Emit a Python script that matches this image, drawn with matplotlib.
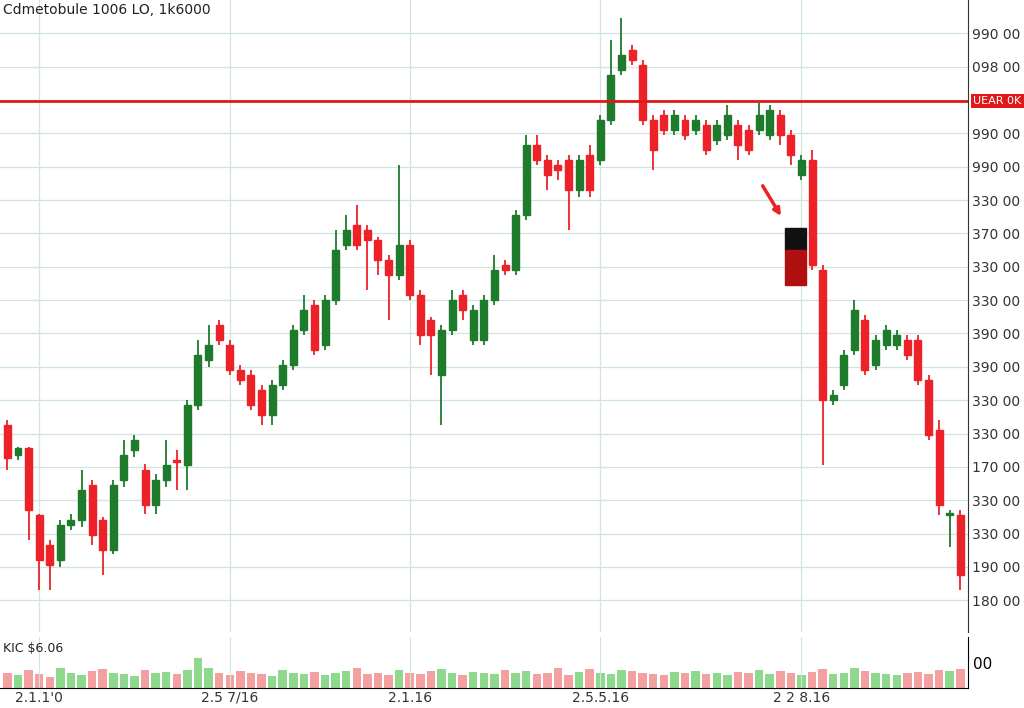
import matplotlib
matplotlib.use("Agg")
import matplotlib.pyplot as plt
from matplotlib.patches import Rectangle

opens = [872.5,863.5,865.6,845.5,836.5,832,842.5,844,854.5,844,835,856,865,859,848.5,856,862,860.5,878.5,892,902.5,896.5,889,887.5,883,875.5,884.5,890.5,901,908.5,896.5,910,926.5,932.5,931,928,922,917.5,926.5,911.5,904,887.5,901,911.5,898,898,910,920.5,919,935.5,956.5,952,950.5,952,943,953.5,952,964,979,985,980.5,964,965.5,961,964,961,962.5,958,959.5,962.5,961,961,959.5,965.5,959.5,947.5,952,919,880,884.5,895,904,890.5,896.5,896.5,898,898,886,871,845.5,845.5]
closes = [862.6,865.6,847,832,830.5,842.5,844,853,839.5,835,854.5,863.5,868,848.5,856,860.5,861.4,878.5,893.5,896.5,898,889,886,878.5,875.5,884.5,890.5,901,907,895,910,925,931,926.5,928,922,917.5,926.5,911.5,899.5,899.5,901,910,907,907,910,919,919,935.5,956.5,952,947.5,949,943,952,943,964,977.5,983.5,982,964,955,961,965.5,959.5,964,955,962.5,965.5,956.5,955,965.5,967,959.5,953.5,952,920.5,880,881.5,893.5,907,889,898,901,899.5,893.5,886,869.5,848.5,846,827.5]
highs = [874,866,866,846,838,844,846,859,856,845,856,868,869.5,861,858,868,865,880,898,902.5,904,898,890.5,889,884.5,886,892,902.5,911.5,910,911.5,931,935.5,938.5,932.5,929,923.5,950.5,928,913,905,902.5,913,913,908.5,911.5,923.5,922,937,959.5,959.5,953.5,952,953.5,953.5,956.5,965.5,988,994.6,986.5,982,965.5,967,967,965.5,965.5,964,964,968.5,964,962.5,969,968.5,967,961,953.5,955,920.5,883,895,910,905.5,899.5,902.5,901,899.5,899.5,887.5,874,847,847]
lows = [859,862,838,823,823,830,841,842,836.5,827.5,834,854,863,846,846,854,853,853,877,890,896.5,887.5,884.5,877,872.5,872.5,883,889,899.5,893.5,895,908.5,925,925,913,917.5,904,916,910,896.5,887.5,872.5,899.5,904,896.5,896.5,908.5,917.5,917.5,934,950.5,943,946,931,941,941,950.5,962.5,977.5,980.5,962.5,949,959.5,959.5,958,959.5,953.5,956.5,958,952,953.5,959.5,958,956.5,950.5,946,919,860.5,878.5,883,893.5,887.5,889,895,895,892,884.5,868,845.5,836,823]
volumes = [30,25,35,28,22,40,30,26,34,38,30,28,24,36,30,32,28,35,60,40,30,26,34,30,28,24,36,30,28,32,26,30,34,40,28,30,26,36,30,28,34,38,30,26,32,30,28,36,30,34,28,30,40,26,32,38,30,28,36,34,30,28,26,32,30,34,28,30,26,32,30,36,28,34,30,26,32,38,28,30,40,34,30,28,26,30,32,28,36,34,38]
resistance = 969.7
yticks = [990,980,970,960,950,940,930,920,910,900,890,880,870,860,850,840,830,820]
ytick_labels = ["990 00","098 00","","990 00","990 00","330 00","370 00","330 00","330 00","390 00","390 00","330 00","330 00","170 00","330 00","330 00","190 00","180 00"]
xtick_pos = [3, 21, 38, 56, 75]
xtick_labels = ["2.1.1'0", "2.5 7/16", "2.1.16", "2.5.5.16", "2 2 8.16"]

GREEN = "#1e7b2c"; RED = "#ec2228"
fig = plt.figure(figsize=(10.24, 7.08), dpi=100)
ax = fig.add_axes([0.0, 0.107, 0.945, 0.893])
vax = fig.add_axes([0.0, 0.028, 0.945, 0.072], sharex=ax)
n = len(opens)
for i in range(n):
    up = closes[i] >= opens[i]
    col = GREEN if up else RED
    ax.vlines(i, lows[i], highs[i], color=col, lw=1.3, zorder=2)
    lo = min(opens[i], closes[i]); hh = max(abs(closes[i]-opens[i]), 0.6)
    ax.add_patch(Rectangle((i-0.33, lo), 0.66, hh, color=col, zorder=3))
    vax.bar(i, volumes[i], width=0.8, color="#8fd98f" if up else "#f2a0a0")
ax.axhline(resistance, color="#e01818", lw=2, zorder=4)
ax.add_patch(Rectangle((73.4, 925), 2.0, 6.6, color="#111111", zorder=3))
ax.add_patch(Rectangle((73.4, 914.5), 2.0, 10.5, color="#b01010", zorder=3))
ax.annotate("", xy=(73.2, 934.5), xytext=(71.2, 945), arrowprops=dict(arrowstyle="-|>", color=RED, lw=2.5))
ax.set_xlim(-0.7, n - 0.3)
ax.set_ylim(810.4, 1000)
ax.yaxis.tick_right()
ax.set_yticks(yticks); ax.set_yticklabels(ytick_labels, fontsize=10, color="#333333")
ax.tick_params(axis="x", labelbottom=False, length=0)
ax.tick_params(axis="y", length=0, pad=3)
ax.grid(True, color="#cfe6dc", lw=0.9)
ax.set_xticks(xtick_pos)
for s in ["top", "left", "bottom"]:
    ax.spines[s].set_visible(False)
ax.spines["right"].set_color("#333333")
ax.text(0.003, 0.995, "Cdmetobule 1006 LO, 1k6000", transform=ax.transAxes, va="top", fontsize=10, color="#222222")
ax.text(1.006, resistance, "UEAR 0K", transform=ax.get_yaxis_transform(), va="center", fontsize=8,
        color="white", bbox=dict(facecolor="#e01818", edgecolor="none", pad=1.5))
vax.set_ylim(0, 100)
vax.yaxis.tick_right()
vax.set_yticks([50]); vax.set_yticklabels(["00"], fontsize=11)
vax.tick_params(axis="y", length=0)
vax.set_xticks(xtick_pos); vax.set_xticklabels(xtick_labels, fontsize=10, color="#333333")
vax.tick_params(axis="x", length=0, pad=2)
vax.grid(True, axis="x", color="#cfe6dc")
for s in ["top", "left"]:
    vax.spines[s].set_visible(False)
vax.text(0.003, 0.9, "KIC $6.06", transform=vax.transAxes, va="top", fontsize=9, color="#222222")
fig.savefig("out.png", dpi=100, facecolor="white")
